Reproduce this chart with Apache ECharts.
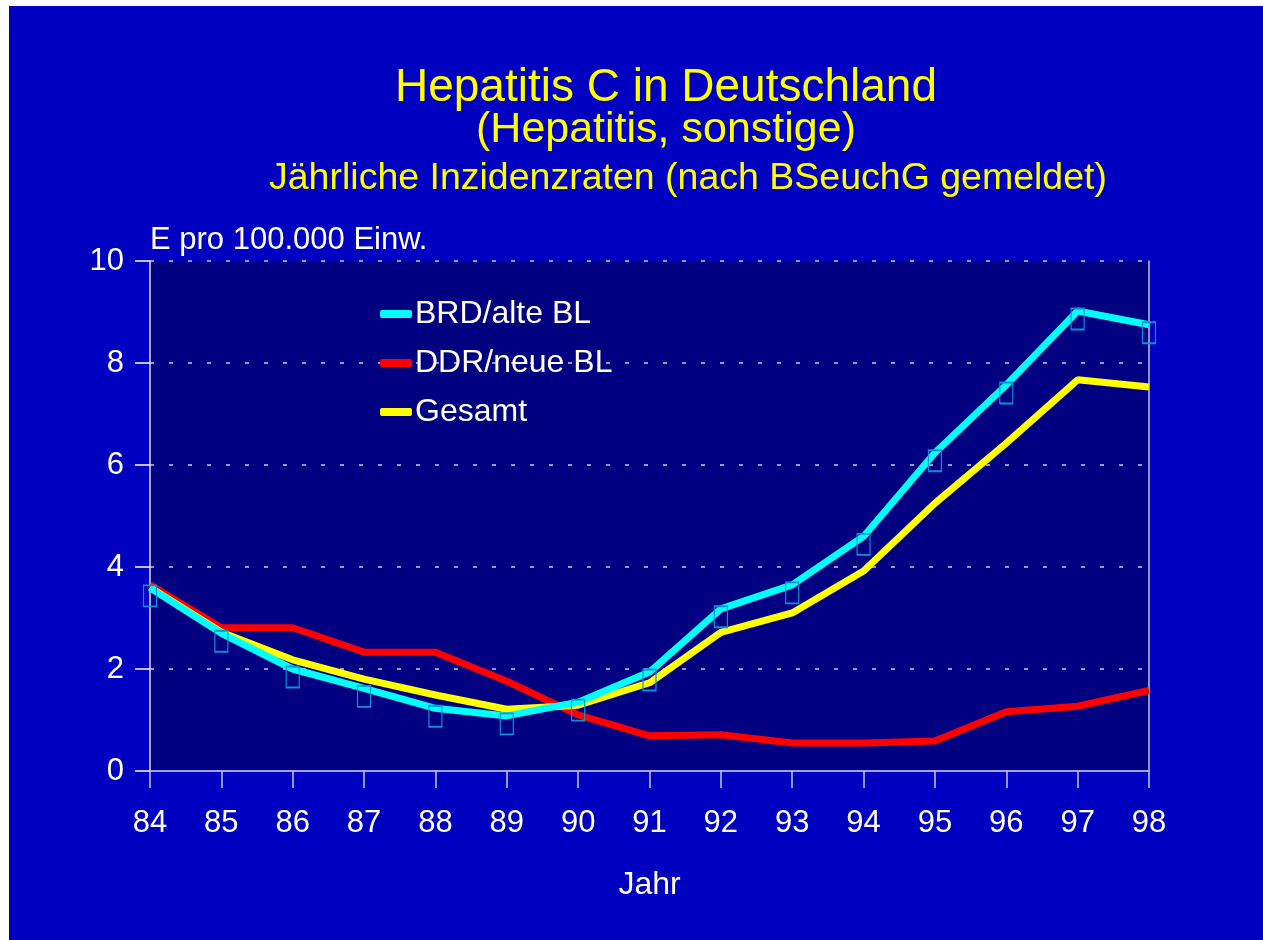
<!DOCTYPE html>
<html>
<head>
<meta charset="utf-8">
<script src="https://cdn.jsdelivr.net/npm/echarts@6/dist/echarts.min.js"></script>
<style>
  html, body { margin: 0; padding: 0; background: #fff; }
  #chart { position: absolute; left: 9px; top: 6px; width: 1254px; height: 934px; }
</style>
</head>
<body>
<div id="chart"></div>
<script>
// Jahre (x-Achse)
var jahre = ['84', '85', '86', '87', '88', '89', '90', '91', '92', '93', '94', '95', '96', '97', '98'];
// Inzidenz pro 100.000 Einwohner
var brdAlteBL = [3.59, 2.7, 2.0, 1.62, 1.23, 1.08, 1.35, 1.94, 3.18, 3.65, 4.6, 6.24, 7.57, 9.02, 8.75];
var ddrNeueBL = [3.65, 2.81, 2.81, 2.33, 2.33, 1.76, 1.1, 0.69, 0.71, 0.55, 0.55, 0.59, 1.16, 1.27, 1.58];
var gesamt    = [3.6, 2.72, 2.18, 1.8, 1.49, 1.21, 1.29, 1.73, 2.72, 3.1, 3.92, 5.25, 6.43, 7.67, 7.53];

var font = '"Liberation Sans", Arial, sans-serif';

var myChart = echarts.init(document.getElementById('chart'));

var option = {
    backgroundColor: '#0000c0',
    textStyle: { fontFamily: font },
    title: [
        {
            text: 'Hepatitis C in Deutschland',
            left: 652, top: 54, textAlign: 'center',
            textStyle: { color: '#ffff00', fontSize: 46, fontWeight: 'normal', fontFamily: font }
        },
        {
            text: '(Hepatitis, sonstige)',
            left: 652, top: 98, textAlign: 'center',
            textStyle: { color: '#ffff00', fontSize: 43, fontWeight: 'normal', fontFamily: font }
        },
        {
            text: 'Jährliche Inzidenzraten (nach BSeuchG gemeldet)',
            left: 674, top: 149, textAlign: 'center',
            textStyle: { color: '#ffff00', fontSize: 37.5, fontWeight: 'normal', fontFamily: font }
        }
    ],
    legend: {
        orient: 'vertical',
        left: 366,
        top: 287,
        itemWidth: 32,
        itemHeight: 8,
        itemGap: 17,
        icon: 'roundRect',
        data: [
            { name: 'BRD/alte BL', itemStyle: { color: '#00ffff', borderWidth: 0 } },
            { name: 'DDR/neue BL', itemStyle: { color: '#ff0000' } },
            { name: 'Gesamt', itemStyle: { color: '#ffff00' } }
        ],
        textStyle: { color: '#ffffff', fontSize: 32, lineHeight: 28, padding: [0, 0, 0, -2], fontFamily: font }
    },
    grid: {
        left: 141, right: 114, top: 255, bottom: 169,
        show: true,
        backgroundColor: '#000080',
        borderWidth: 0
    },
    xAxis: {
        type: 'category',
        data: jahre,
        boundaryGap: false,
        name: 'Jahr',
        nameLocation: 'middle',
        nameGap: 98,
        nameTextStyle: { color: '#ffffff', fontSize: 32 },
        axisLine: { lineStyle: { color: '#a0a0e0', width: 2 } },
        axisTick: { show: true, inside: false, length: 17, alignWithLabel: true, lineStyle: { color: '#c8c8f0', width: 1.5 } },
        axisLabel: { color: '#ffffff', fontSize: 31, margin: 37 },
        splitLine: { show: false }
    },
    yAxis: [
        {
            type: 'value',
            min: 0, max: 10, interval: 2,
            name: 'E pro 100.000 Einw.',
            nameLocation: 'end',
            nameGap: 5,
            nameTextStyle: { color: '#ffffff', fontSize: 31, align: 'left', verticalAlign: 'bottom' },
            axisLine: { show: true, lineStyle: { color: '#e0e0f0', width: 1.5 } },
            axisTick: { show: true, length: 15, lineStyle: { color: '#ffffff', width: 1.5 } },
            axisLabel: { color: '#ffffff', fontSize: 31, margin: 26 },
            splitLine: { show: true, lineStyle: { color: '#c8c8e8', width: 1.5, type: [4, 15] } }
        },
        {
            // rechte Rahmenlinie
            type: 'value',
            position: 'right',
            min: 0, max: 10, interval: 2,
            axisLine: { show: true, lineStyle: { color: '#c0c0d8', width: 1.5 } },
            axisTick: { show: false },
            axisLabel: { show: false },
            splitLine: { show: false }
        }
    ],
    series: [
        {
            name: 'DDR/neue BL',
            type: 'line',
            data: ddrNeueBL,
            symbol: 'none',
            z: 2,
            lineStyle: { color: '#ff0000', width: 7 },
            itemStyle: { color: '#ff0000' }
        },
        {
            name: 'Gesamt',
            type: 'line',
            data: gesamt,
            symbol: 'none',
            z: 3,
            lineStyle: { color: '#ffff00', width: 7 },
            itemStyle: { color: '#ffff00' }
        },
        {
            name: 'BRD/alte BL',
            type: 'line',
            data: brdAlteBL,
            symbol: 'rect',
            symbolSize: [13, 21],
            symbolOffset: [0, 8],
            showAllSymbol: true,
            z: 4,
            lineStyle: { color: '#00ffff', width: 7 },
            itemStyle: { color: 'rgba(0,0,0,0)', borderColor: '#0c90d8', borderWidth: 1.5 }
        }
    ]
};

myChart.setOption(option);
</script>
</body>
</html>
